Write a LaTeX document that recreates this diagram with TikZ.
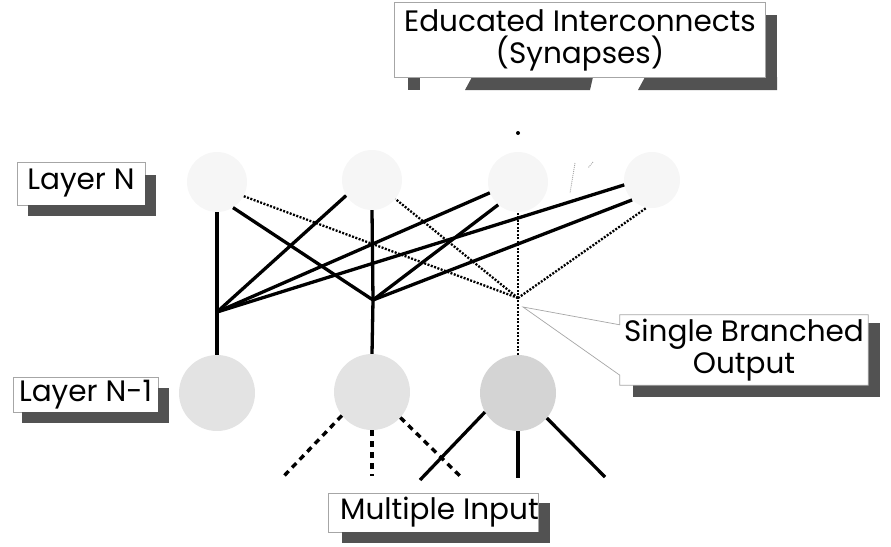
\documentclass[tikz,border=0pt]{standalone}
\usepackage{fontspec}
\setmainfont{Poppins}
\usetikzlibrary{patterns,calc}

% halftone drop shadow to the right of and below a box node
\newcommand{\boxshadow}[4]{%
  \fill[halftone] ([yshift=-#3]#1.north east) rectangle ([xshift=#2,yshift=-#2]#1.south east);
  \fill[halftone] ([xshift=#4]#1.south west) rectangle ([xshift=#2,yshift=-#2]#1.south east);}

\begin{document}
\begin{tikzpicture}[x=1pt,y=-1pt,
  labeltext/.style={font=\fontsize{29.5}{32}\selectfont, inner sep=0pt, align=center},
  boxnode/.style={labeltext, draw=gray!70, line width=0.7pt, fill=white},
  boxline/.style={draw=gray!70, line width=0.7pt, fill=white},
  halftone/.style={fill=black!68},
  upper/.style={circle, minimum size=60pt, inner sep=0pt, fill=gray!7},
  lower/.style={circle, minimum size=76pt, inner sep=0pt, fill=gray!22},
  lowerdark/.style={circle, minimum size=76pt, inner sep=0pt, fill=gray!34},
  wire/.style={line width=3.3pt, black},
  dotwire/.style={line width=2.3pt, black, dash pattern=on 2pt off 1.5pt},
  dashwire/.style={line width=3.4pt, black, dash pattern=on 6pt off 5pt},
  faint/.style={line width=0.9pt, gray!70, dash pattern=on 1pt off 1pt}
]
\useasboundingbox (0,0) rectangle (891,546);

% ---- neurons ----
\node[upper] (n1) at (217,182) {};
\node[upper] (n2) at (372,180) {};
\node[upper] (n3) at (518,182) {};
\node[upper, minimum size=56pt] (n4) at (652,180) {};

\node[lower] (m1) at (217,393) {};
\node[lower] (m2) at (372,392) {};
\node[lowerdark] (m3) at (518,393) {};

% branch points of the outputs of layer N-1
\coordinate (b1) at (217,312);
\coordinate (b2) at (373,300);
\coordinate (b3) at (518,298);

% free ends of the input lines
\coordinate (i1) at (283,477);
\coordinate (i2) at (372,476);
\coordinate (i3) at (462,478);
\coordinate (i4) at (420,480);
\coordinate (i5) at (518,478);
\coordinate (i6) at (605,477);

% ---- first neuron output (solid) ----
\draw[wire] (m1.north) -- (b1) -- (n1.south);
\draw[wire] (b1) -- (n2.211);
\draw[wire] (b1) -- (n3.201);
\draw[wire] (b1) -- (n4.190);

% ---- second neuron output (solid) ----
\draw[wire] (m2.north) -- (b2) -- (n2.south);
\draw[wire] (b2) -- (n1.302);
\draw[wire] (b2) -- (n3.229);
\draw[wire] (b2) -- (n4.225);

% ---- third neuron output (dotted) ----
\draw[dotwire] (m3.north) -- (b3) -- (n3.south);
\draw[dotwire] (b3) -- (n1.-28);
\draw[dotwire] (b3) -- (n2.-39);
\draw[dotwire] (b3) -- (n4.259);

% ---- inputs ----
\draw[dashwire] (m2.218) -- (i1);
\draw[dashwire] (m2.south) -- (i2);
\draw[dashwire] (m2.-42) -- (i3);
\draw[wire] (m3.210) -- (i4);
\draw[wire] (m3.south) -- (i5);
\draw[wire] (m3.-41) -- (i6);

% ---- labels ----
\node[boxnode, minimum width=128pt, minimum height=43pt] (lbn) at (81,183.5) {Layer N};
\node[boxnode, minimum width=145pt, minimum height=35pt] (lbm) at (85.5,394.5) {Layer N-1};
\node[boxnode, minimum width=209pt, minimum height=39pt] (lbin) at (433.5,512.5) {\hspace*{12pt}Multiple Input};

% shadows, placed outside the boxes
\boxshadow{lbn}{11pt}{13pt}{11pt}
\boxshadow{lbm}{11pt}{11pt}{9pt}
\boxshadow{lbin}{11pt}{10pt}{14pt}

% output callout
\node[labeltext, minimum width=248pt, minimum height=70pt] (lbout) at (744,350) {};
\coordinate (tip) at (523,307);
\boxshadow{lbout}{12pt}{8pt}{13pt}
\filldraw[boxline] (lbout.north west) -- (lbout.north east) -- (lbout.south east)
  -- (lbout.south west) -- ([yshift=10pt]lbout.south west) -- (tip)
  -- ([yshift=-10pt]lbout.north west) -- cycle;
\node[labeltext] at (lbout.center) {Single Branched\\Output};

% synapse callout
\node[labeltext, minimum width=370pt, minimum height=74pt] (lbsyn) at (580,40) {};
\fill[halftone] ([yshift=-12pt]lbsyn.north east) rectangle ([xshift=12pt,yshift=-13pt]lbsyn.south east);
\fill[halftone] ([xshift=13pt]lbsyn.south west) rectangle ([xshift=25pt,yshift=-13pt]lbsyn.south west);
\fill[halftone] (472,77) -- (593,77) -- (590,90) -- (465,90) -- cycle;
\fill[halftone] (645,77) -- (lbsyn.south east) -- ([xshift=12pt]lbsyn.south east)
  -- ([xshift=12pt,yshift=-13pt]lbsyn.south east) -- (638,90) -- cycle;
\draw[boxline] (lbsyn.north west) rectangle (lbsyn.south east);
\node[labeltext] at (lbsyn.center) {Educated Interconnects\\(Synapses)};

% traces of the synapse pointers
\draw[faint] (575,163) -- (570,193);
\draw[faint] (593,162) -- (588,168);
\fill (518,133) circle (2pt);
\end{tikzpicture}
\end{document}
